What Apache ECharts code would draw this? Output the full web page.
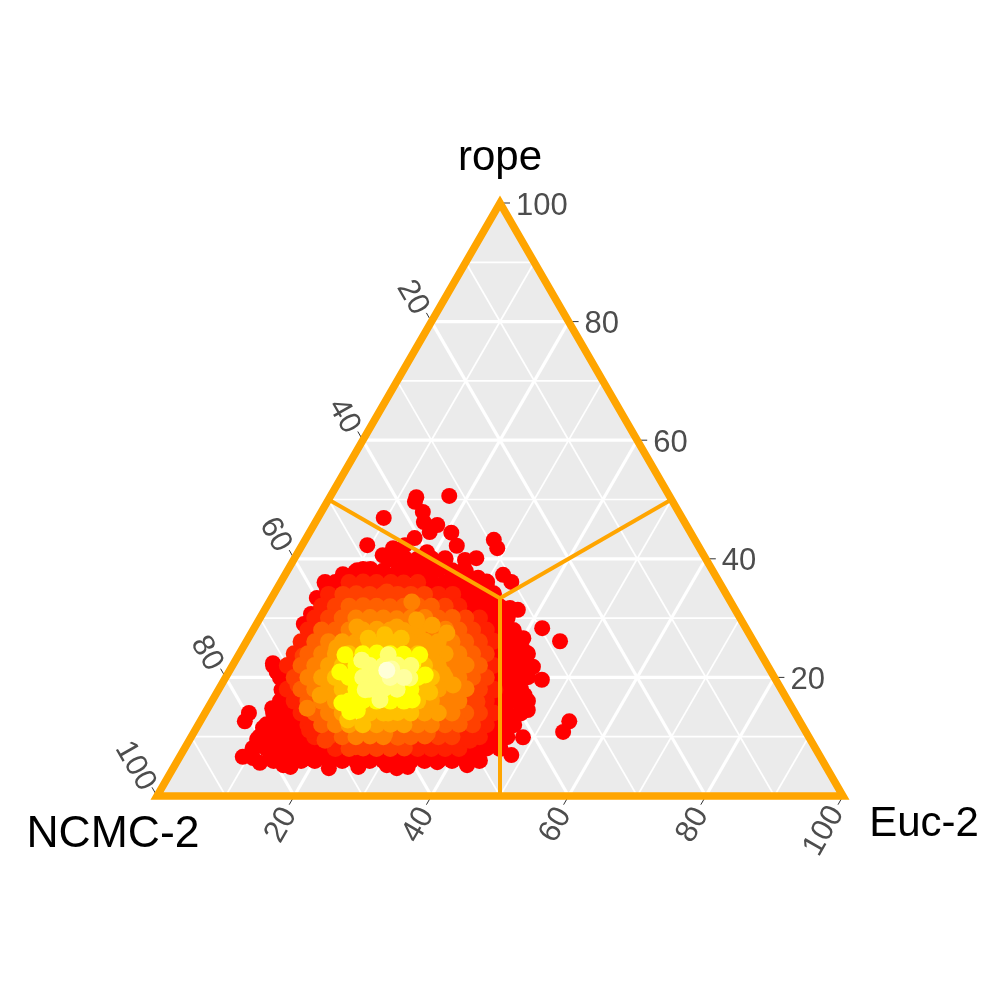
<!DOCTYPE html>
<html>
<head>
<meta charset="utf-8">
<script src="https://cdn.jsdelivr.net/npm/echarts@6/dist/echarts.min.js"></script>
<style>html,body{margin:0;padding:0;background:#fff}#c{width:1000px;height:1000px}</style>
</head>
<body>
<div id="c"></div>
<script>
// Points are [Euc-2 %, rope %]; NCMC-2 % is the remainder to 100.
const axisNames = ['NCMC-2', 'Euc-2', 'rope'];
const majorTicks = [20, 40, 60, 80];
const minorTicks = [10, 30, 50, 70, 90];
const tickLabels = [20, 40, 60, 80, 100];

const outliers = [[17.3,50.6],[12.6,50.4],[12.8,49.6],[14.8,47.9],[15.8,46.2],[18,45.7],[17.5,44.5],[9.6,46.9],[15.8,43.5],[18.8,41.1],[20.7,44.4],[22.6,42.2],[27.5,43.2],[28.7,41.8],[31.8,37.3],[33.6,36.1],[26.5,40.1],[25,39.8],[22,39.3],[28.4,36.8],[30.5,35.2],[25.6,38.1],[35.6,31.7],[36.9,31.4],[42,28.3],[45.7,26.1],[9.5,42.3],[12.6,40.6],[13.5,41.8],[15,42.3],[10.9,38.3],[10,37.8],[8.4,37.4],[7.2,35.1],[6.6,33.4],[7.1,30.7],[6.9,29],[9.2,27.5],[5.7,22.4],[7,20.9],[9.2,17.9],[8.7,23.4],[6.4,14],[6.5,12.6],[9.4,14.8],[9.7,11.5],[9.8,9.6],[9.2,6.6],[10.8,6.4],[12.2,5.6],[12.9,7.3],[15.8,5.2],[17,4.9],[18.8,6.4],[22.7,4.7],[26.9,4.9],[22,6.4],[30.9,5.2],[32.6,4.7],[34.1,4.9],[38,5.7],[42.6,5.2],[48.2,6.9],[48.4,9.9],[53.8,10.8],[53.8,12.6],[46.3,19.6],[46.8,14.5],[45.1,17],[43.9,21.8],[41.1,24.6],[40.1,26.6],[38.1,27.2]];

const band0 = [[10.2,38],[12,38.2],[14,37.9],[16.2,38],[18,38.1],[20,38],[21.8,38.2],[24,38],[26,37.9],
[14,40],[16,40.1],[18,39.9],[20,40],[22,40],
[8,36],[6.5,36],[22,36.1],[24,36],[26,35.9],[28,36],[30,36.1],
[28,34],[30,34],[32,34.1],
[30,32],[32,32],[34,31.9],
[34,30],[36,30.1],
[36,28],[38,27.9],
[38,26],[40,26],
[38,24],[40,24.1],[42,24],
[6,22],[40,22],[42,22.1],
[8,20],[40,20],[42,20],[44,20.1],
[42,18],[44,18],
[10,16],[42,16],[44,16.1],[46,16],
[10,14],[12,14.1],[44,14],[46,14],
[10,12],[12,12],[14,12.1],[44,12],[46,12],
[10,10],[12,10],[14,10.1],[16,10],[44,10],[46,10],
[10,8],[12,8],[14,8.1],[16,8],[18,8],[20,8],[42,8],[44,8.1],[46,8],
[14,6],[16,6],[18,6],[20,6],[22,6],[24,6],[26,6],[28,6],[30,6],[32,6],[34,6],[36,6],[38,6],[40,6],[42,6],[44,6]];
const band1 = [[10,36],[12,36.1],[14,36],[16.1,36],[18,35.9],[20,36],
[8,34],[24,34],[26.1,34],
[8,32],[28,32],
[8,30],[32,30],
[8,28],[34,28],
[8,26],[36,26.1],
[8,24],
[8,22],[38,22],
[10,18],[40,18],
[12,16],[40,16],
[14,14],[42,14],
[16,12],[42,12],
[18,10],[40,10],[42,10],
[22,8],[34,8],[36,8],[38,8],[40,8],
[10.5,31.7],[10.2,29.2],[33.9,26.3],[40.3,17.9],[40.9,9.4],[12.7,16.2],[16.7,11.1],[24.8,33]];
const band2 = [[10.1,34],[12,34.1],[14,34],[16,33.9],[18.1,34],[20,34],[22,34],
[10,32],[26,32],
[10,30],[30,30],
[32,28],
[34,26],
[36,24],
[10,20],[38,20],
[38,18],
[38,16],
[40,14],
[40,12],
[20,10],[36,10],[38,10],
[24,8],[26,8.1],[28,8],[30,8],[32,8.1],
[16.3,34.4],[13,32.5],[9.5,23.6],[11.2,18.7],[38.7,15.9],[19.8,9.4],[24.8,8.3],[30,29.7],[35.3,22.1]];
const band3 = [[12,32],[14,32.1],[16,32],[18,31.9],[20,32],[22,32.1],[24,32],
[12,30],[26,30],[28,30.1],
[10,28],[12,28],[30,28],
[10,26],[32,26],
[10,24],[34,24],
[10,22],[36,22],
[36,20],
[12,18],
[14,16],
[16,14],[38,14],
[18,12],[36,12],[38,12.1],
[22,10],[30,10],[32,10],[34,10.1],
[11.7,24.8],[34.4,20.4],[35.9,12.8],[34.1,10.6],[30.2,9.9]];
const band4 = [[14,30],[16,30.1],[18,30],[20,29.9],[22,30],[24,30.1],
[14,28],[26,28],[28,28.1],
[12,26],[30,26],
[12,24],[32,24],
[12,22],[32,22],[34,22.1],
[12,20],[34,20],
[14,18],[34,18],[36,18.1],
[16,16],[34,16],[36,16],
[18,14],[36,14],
[20,12],[32,12],[34,12],
[24,10],[26,10.1],[28,10],
[14.5,14.8],[20.8,32.7],[34.2,15],[27.9,10.6]];
const band5 = [[16,28],[18,28.1],[20,28],[22,27.9],[24,28],
[14,26],[16,26],[24,26],[26,26.1],[28,26],
[14,24],[28,24],[30,24],
[14,22],[30,22],
[14,20],[32,20],
[16,18],[32,18],
[18,16],[32,16],
[20,14],[32,14],[34,14],
[22,12],[26,12],[28,12.1],[30,12],
[15.3,17],[15.6,19.2],[14.4,21.6],[13.7,25],[15.7,25.5],[14.9,28.5],[20.7,28.5],[23,29.7],[25.7,28.8],[28.5,27.5],[27.9,24.6],[31.3,20.7],[33.8,18.7],[29.4,14],[25.2,12.5]];
const band6 = [[18,26],[20,26.1],[22,26],
[16,24],[26,24],
[16,22],[28,22],
[16,20],[30,20],
[18,18],[30,18],
[30,16],
[24,14],[26,14],[28,14.1],[30,14],
[24,12],
[17.5,26.6],[19.6,27.2],[21.4,12.8],[26.7,14],[22.3,26.6],[31,17.5]];
const band7 = [[18,24],[20,24.1],[22,24],[24,23.9],
[18,22],
[18,20],[28,20],
[20,18],[28,18],
[20,16],[22,16.1],[24,16],[26,16],[28,16],
[22,14.4],[21,14.2],
[19.1,15.7],[21.6,15.3],[26.3,16.7],[29.1,16.2],[26.1,22.4],[16.2,20.9],[15.5,23.8],[28.9,20.4],[26.4,23.8]];
const band8 = [[20,22],[22,22],[24,22.1],[26,22],[20,20],[22,20],[22,18],[24,18.1],[26,18],
[18.4,22.9],[21.8,23.8],[24.4,19.2],[26.9,19.9],[21.4,17.9],[24.4,16.2]];
const band9 = [[24,20],[26,20],[23.5,21.4]];
const band10 = [[22.9,21.2]];
const bands = [band0, band1, band2, band3, band4, band5, band6, band7, band8, band9, band10];
const bandColors = ['#ff0000','#ff2000','#ff4000','#ff6000','#ff8000','#ffa000','#ffc000','#ffff00','#ffff70','#ffffa0','#ffffd8'];

const ORANGE = '#ffa500';
const toXY = (e, r) => [e + r / 2, r];

function lineSeries(name, segs, z) {
  return {
    type: 'custom', name, coordinateSystem: 'cartesian2d', clip: false, silent: true, z,
    data: segs,
    renderItem(p, api) {
      const a = api.coord(toXY(api.value(0), api.value(1)));
      const b = api.coord(toXY(api.value(2), api.value(3)));
      return { type: 'line', shape: { x1: a[0], y1: a[1], x2: b[0], y2: b[1] },
        style: { stroke: api.value(5) === 0 ? ORANGE : '#ffffff', lineWidth: api.value(4), lineCap: 'butt' } };
    }
  };
}
function familySegs(t, w) {
  return [
    [0, t, 100 - t, t, w, 1],          // rope = t
    [t, 0, t, 100 - t, w, 1],          // Euc = t
    [0, 100 - t, 100 - t, 0, w, 1]     // NCMC = t
  ];
}
const gridSegs = [];
minorTicks.forEach(t => gridSegs.push(...familySegs(t, 1.7)));
majorTicks.forEach(t => gridSegs.push(...familySegs(t, 3.2)));

const c = 100 / 3;
const centreSegs = [[c, c, 0, 50, 4, 0], [c, c, 50, 50, 4, 0], [c, c, 50, 0, 4, 0]];

const tickDirs = { rope: [10, 0], left: [-5, -8.7], bottom: [-5, 8.7] };
const textFont = '"Liberation Sans", Arial, sans-serif';

const chart = echarts.init(document.getElementById('c'), null, { renderer: 'canvas' });
const series = [];

series.push({
  type: 'custom', coordinateSystem: 'cartesian2d', clip: false, silent: true, z: 1,
  data: [[0]],
  renderItem(p, api) {
    const pts = [toXY(0, 0), toXY(100, 0), toXY(0, 100)].map(q => api.coord(q));
    return { type: 'polygon', shape: { points: pts }, style: { fill: '#ebebeb' } };
  }
});
series.push(lineSeries('grid', gridSegs, 2));

series.push({
  type: 'scatter', name: 'outer', z: 3, clip: false, silent: true,
  symbol: 'circle', symbolSize: 16,
  itemStyle: { color: '#ff0000', opacity: 1 },
  data: outliers.map(q => toXY(q[0], q[1]))
});
bands.forEach((b, i) => series.push({
  type: 'scatter', name: 'density' + i, z: 3, clip: false, silent: true,
  symbol: 'circle', symbolSize: 17,
  itemStyle: { color: bandColors[i], opacity: 1 },
  data: b.map(q => toXY(q[0], q[1]))
}));

series.push(lineSeries('regions', centreSegs, 4));

series.push({
  type: 'custom', coordinateSystem: 'cartesian2d', clip: false, silent: true, z: 5,
  data: [[0]],
  renderItem(p, api) {
    const kids = [];
    const tickLine = (pt, d) => kids.push({ type: 'line',
      shape: { x1: pt[0], y1: pt[1], x2: pt[0] + d[0], y2: pt[1] + d[1] },
      style: { stroke: '#333333', lineWidth: 1 } });
    const txt = (s, x, y, size, col, rot, align) => kids.push({ type: 'text', x, y, rotation: rot || 0,
      originX: 0, originY: 0,
      style: { text: s, x: 0, y: 0, font: size + 'px ' + textFont, fill: col, align: align || 'center', verticalAlign: 'middle' } });
    tickLabels.forEach(t => {
      const s = String(t);
      const pR = api.coord(toXY(100 - t, t));
      const pL = api.coord(toXY(0, 100 - t));
      const pB = api.coord(toXY(t, 0));
      tickLine(pR, tickDirs.rope); tickLine(pL, tickDirs.left); tickLine(pB, tickDirs.bottom);
      txt(s, pR[0] + 16, pR[1] + 3, 31, '#4d4d4d', 0, 'left');
      const extra = t === 100 ? 1 : 0;
      txt(s, pL[0] - 19 - 3 * extra, pL[1] - 24 - 6 * extra, 31, '#4d4d4d', -Math.PI / 3);
      txt(s, pB[0] - 13 - 6 * extra, pB[1] + 29 + 6 * extra, 31, '#4d4d4d', Math.PI / 3);
    });
    const v = [toXY(0, 0), toXY(100, 0), toXY(0, 100)].map(q => api.coord(q));
    kids.push({ type: 'polygon', shape: { points: v },
      style: { fill: 'none', stroke: ORANGE, lineWidth: 7.5, lineJoin: 'miter' } });
    txt(axisNames[2], v[2][0], v[2][1] - 45, 42, '#000000');
    txt(axisNames[0], v[0][0] - 44, v[0][1] + 39, 44.5, '#000000');
    txt(axisNames[1], v[1][0] + 81, v[1][1] + 28, 42, '#000000');
    return { type: 'group', children: kids };
  }
});

chart.setOption({
  animation: false,
  backgroundColor: '#ffffff',
  grid: { left: 157, right: 157, top: 203, bottom: 204 },
  xAxis: { type: 'value', min: 0, max: 100, show: false },
  yAxis: { type: 'value', min: 0, max: 100, show: false },
  series
});
</script>
</body>
</html>
